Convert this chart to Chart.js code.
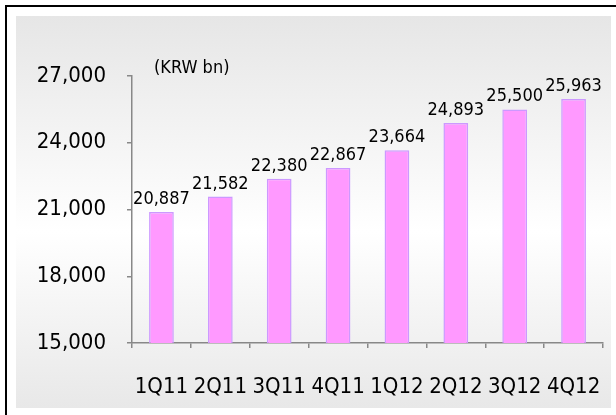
<!DOCTYPE html>
<html>
<head>
<meta charset="utf-8">
<script src="https://cdn.jsdelivr.net/npm/chart.js@4/dist/chart.umd.min.js"></script>
<style>
  html, body { margin: 0; padding: 0; background: #ffffff; }
  #wrap { position: relative; width: 616px; height: 415px; }
</style>
</head>
<body>
<div id="wrap"><canvas id="c" width="616" height="415"></canvas></div>
<script>
const categories = ['1Q11', '2Q11', '3Q11', '4Q11', '1Q12', '2Q12', '3Q12', '4Q12'];
const revenue = [20887, 21582, 22380, 22867, 23664, 24893, 25500, 25963];
const valueLabels = ['20,887', '21,582', '22,380', '22,867', '23,664', '24,893', '25,500', '25,963'];
const yTicks = [15000, 18000, 21000, 24000, 27000];
const unitLabel = '(KRW bn)';

const FAMILY = "'DejaVu Sans Condensed', 'DejaVu Sans', sans-serif";

const framePlugin = {
  id: 'frame',
  beforeDraw(chart) {
    const ctx = chart.ctx;
    ctx.save();
    const g = ctx.createLinearGradient(0, 16, 0, 408);
    g.addColorStop(0, '#e6e6e6');
    g.addColorStop(0.55, '#ffffff');
    g.addColorStop(1, '#e8e8e8');
    ctx.fillStyle = g;
    ctx.fillRect(16, 16, 595, 392);
    ctx.fillStyle = '#000000';
    ctx.fillRect(5, 5, 2, 410);
    ctx.fillRect(5, 5, 611, 2);
    ctx.restore();
  }
};

const labelPlugin = {
  id: 'valueLabels',
  afterDatasetsDraw(chart) {
    const ctx = chart.ctx;
    const meta = chart.getDatasetMeta(0);
    ctx.save();
    ctx.fillStyle = '#000000';
    ctx.font = "18px " + FAMILY;
    ctx.textAlign = 'center';
    ctx.textBaseline = 'alphabetic';
    meta.data.forEach((bar, i) => {
      ctx.fillText(valueLabels[i], bar.x, bar.y - 8);
    });
    ctx.textAlign = 'left';
    ctx.fillText(unitLabel, chart.chartArea.left + 22, 73);
    ctx.restore();
  }
};

new Chart(document.getElementById('c'), {
  type: 'bar',
  data: {
    labels: categories,
    datasets: [{
      data: revenue,
      backgroundColor: '#ff99ff',
      borderColor: '#cc99ff',
      borderWidth: 1.5,
      borderSkipped: 'bottom',
      categoryPercentage: 1,
      barPercentage: 0.42
    }]
  },
  options: {
    responsive: false,
    animation: false,
    devicePixelRatio: 1,
    layout: { padding: { top: 76, right: 13, left: 0, bottom: 0 } },
    plugins: { legend: { display: false }, tooltip: { enabled: false }, title: { display: false } },
    scales: {
      y: {
        min: 15000,
        max: 27000,
        afterFit(scale) { scale.width = 132; scale.paddingTop = 0; scale.paddingBottom = 0; },
        afterBuildTicks(scale) { scale.ticks = yTicks.map(v => ({ value: v })); },
        border: { display: true, color: '#888888', width: 1.5 },
        grid: { drawOnChartArea: false, drawTicks: true, tickLength: 5, color: '#888888', lineWidth: 1.5 },
        ticks: {
          padding: 21,
          color: '#000000',
          font: { family: FAMILY, size: 22 },
          callback: (v) => v.toLocaleString('en-US')
        }
      },
      x: {
        afterFit(scale) { scale.height = 72; scale.paddingLeft = 0; scale.paddingRight = 0; },
        border: { display: true, color: '#888888', width: 1.5 },
        grid: { offset: true, drawOnChartArea: false, drawTicks: true, tickLength: 5, color: '#888888', lineWidth: 1.5 },
        ticks: {
          padding: 26,
          color: '#000000',
          maxRotation: 0,
          autoSkip: false,
          font: { family: FAMILY, size: 22 }
        }
      }
    }
  },
  plugins: [framePlugin, labelPlugin]
});
</script>
</body>
</html>
